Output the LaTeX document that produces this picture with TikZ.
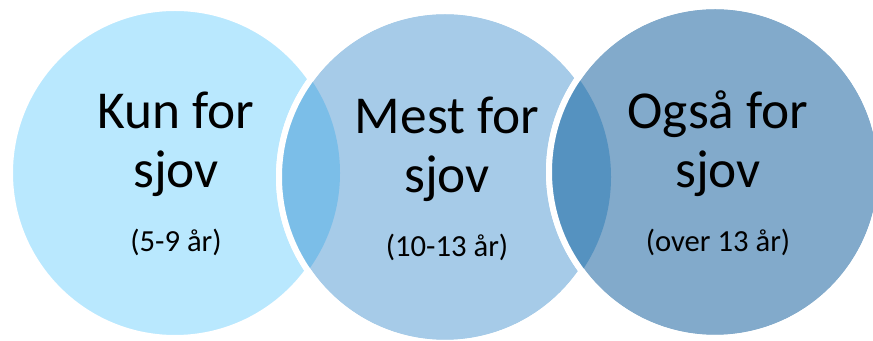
\documentclass[tikz,border=0pt]{standalone}
\usepackage{fontspec}
\setmainfont{Carlito}

\definecolor{kunfill}{RGB}{185,232,254}
\definecolor{mestfill}{RGB}{166,203,232}
\definecolor{ogsaafill}{RGB}{130,170,203}
\definecolor{kunmest}{RGB}{123,190,232}
\definecolor{mestogsaa}{RGB}{85,146,192}

\tikzset{
  ring/.style={draw=white, line width=4.5pt},
  title/.style={anchor=base, align=center, font=\fontsize{40}{44.25}\selectfont},
  age/.style={anchor=base, font=\fontsize{23}{27}\selectfont}
}

\begin{document}
\begin{tikzpicture}[x=0.75pt,y=0.75pt,yscale=-1,xscale=1]
\useasboundingbox (0,0) rectangle (873,341);

%Shape: Circle [kun]
\draw [ring, fill=kunfill] (175,173) circle (165);

%Shape: Circle [mest]
\draw [ring, fill=mestfill] (445,177) circle (166);
%Shape: Lens [kun-mest]
\begin{scope}
\clip (175,173) circle (165);
\fill [kunmest] (445,177) circle (166);
\end{scope}
\draw [ring] (445,177) circle (166);

%Shape: Circle [ogsaa]
\draw [ring, fill=ogsaafill] (715,172) circle (166);
%Shape: Lens [mest-ogsaa]
\begin{scope}
\clip (445,177) circle (166);
\fill [mestogsaa] (715,172) circle (166);
\end{scope}
\draw [ring] (715,172) circle (166);

% Text Node (base = last line)
\node [title] (kun) at (176,188) {Kun for\\sjov};
% Text Node
\node [age] (kunage) at (176,252) {(5-9 år)};
% Text Node
\node [title] (mest) at (447,193) {Mest for\\sjov};
% Text Node
\node [age] (mestage) at (447,257) {(10-13 år)};
% Text Node
\node [title] (ogsaa) at (718,188) {Også for\\sjov};
% Text Node
\node [age] (ogsaaage) at (718,252) {(over 13 år)};

\end{tikzpicture}
\end{document}
